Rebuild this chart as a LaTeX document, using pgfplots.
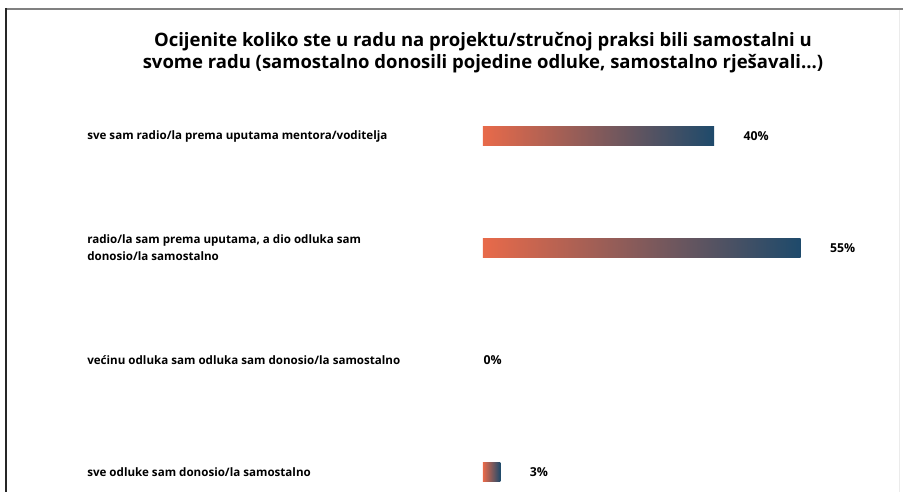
\documentclass[border=0pt]{standalone}
\usepackage{pgfplots}
\pgfplotsset{compat=1.18}
\usepackage{fontspec}
\setmainfont{Open Sans}
\definecolor{barL}{HTML}{E86A4A}
\definecolor{barR}{HTML}{1E4A6B}
\begin{document}
\begin{tikzpicture}[x=1pt,y=1pt]
\path[use as bounding box] (0,0) rectangle (903,492);
\draw[color=black!50, line width=2pt] (5.5,483) -- (903,483);
\draw[color=black!85, line width=1.5pt] (6,484) -- (6,0);
\draw[color=black!8, line width=1pt] (899.5,482) -- (899.5,0);
\node[font=\bfseries\fontsize{18.5}{22}\selectfont, align=center] at (483,439)
 {Ocijenite koliko ste u radu na projektu/stručnoj praksi bili samostalni u\\svome radu (samostalno donosili pojedine odluke, samostalno rješavali...)};
\begin{axis}[
  at={(483pt,412pt)}, anchor=north west,
  scale only axis, width=346.5pt, height=408.8pt,
  xmin=0, xmax=60, ymin=-0.5, ymax=3.15, y dir=reverse,
  axis line style={draw=none}, tick style={draw=none},
  xtick=\empty, ytick={0,1,2,3},
  yticklabels={sve sam radio/la prema uputama mentora/voditelja,
    {radio/la sam prema uputama, a dio odluka sam\\donosio/la samostalno},
    većinu odluka sam odluka sam donosio/la samostalno,
    sve odluke sam donosio/la samostalno},
  yticklabel style={anchor=west, xshift=-395pt, align=left,
    font=\bfseries\fontsize{11.6}{17}\selectfont},
  /pgf/number format/assume math mode=true,
  xbar, bar width=19pt, bar shift=0pt,
  nodes near coords={\pgfmathprintnumber{\pgfplotspointmeta}\%},
  every node near coord/.append style={anchor=west,
    font=\bfseries\fontsize{12.3}{13}\selectfont},
  clip=false,
]
\addplot[draw=none, left color=barL, right color=barR,
  every node near coord/.append style={xshift=26pt}]
  coordinates {(40,0)};
\addplot[draw=none, left color=barL, right color=barR,
  every node near coord/.append style={xshift=26pt}]
  coordinates {(55,1)};
\addplot[draw=none, fill=none,
  every node near coord/.append style={xshift=-3pt}]
  coordinates {(0,2)};
\addplot[draw=none, left color=barL, right color=barR,
  every node near coord/.append style={xshift=26pt}]
  coordinates {(3,3)};
\end{axis}
\end{tikzpicture}
\end{document}
